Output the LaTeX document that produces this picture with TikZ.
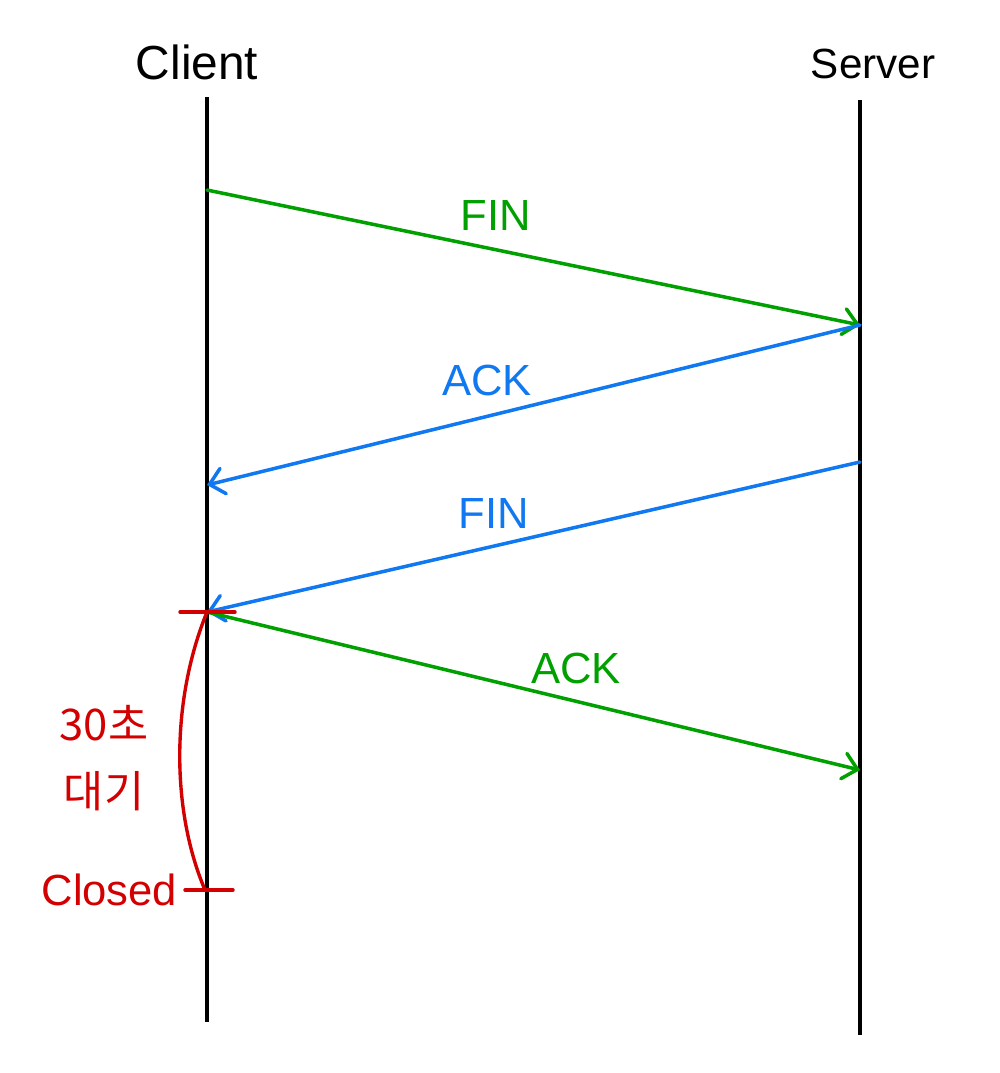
\documentclass[tikz,border=0pt]{standalone}
\usepackage{fontspec}
\setmainfont{Liberation Sans}
\newfontfamily\krfont{Noto Sans CJK KR}
\usetikzlibrary{arrows.meta,positioning}
\definecolor{lifecolor}{RGB}{0, 0, 0}
\definecolor{fincolor}{RGB}{0, 160, 0}
\definecolor{ackcolor}{RGB}{16, 120, 240}
\definecolor{waitcolor}{RGB}{210, 0, 0}
\tikzset{
lifeline/.style={
  draw=lifecolor,
  line width=3.2pt
},
hostlabel/.style={
  font=\fontsize{34}{40}\selectfont,
  text=lifecolor
},
greenmsg/.style={
  -{Straight Barb[length=3.5mm,width=6.5mm,line cap=round]},
  line width=2.5pt,
  line cap=round,
  draw=fincolor
},
bluemsg/.style={
  -{Straight Barb[length=3.5mm,width=6.5mm,line cap=round]},
  line width=2.5pt,
  line cap=round,
  draw=ackcolor
},
msglabel/.style={
  font=\fontsize{31}{36}\selectfont
},
waitline/.style={
  draw=waitcolor,
  line width=2.4pt,
  line cap=round
},
waitlabel/.style={
  text=waitcolor,
  align=center
}
}

\begin{document}
\begin{tikzpicture}[x=0.025cm,y=-0.025cm]
  \useasboundingbox (0,0) rectangle (1000,1073);

  % lifelines
  \coordinate (ctop) at (207,97);
  \coordinate (cbot) at (207,1022);
  \coordinate (stop) at (860,100);
  \coordinate (sbot) at (860,1035);
  \draw[lifeline] (ctop) -- (cbot);
  \draw[lifeline] (stop) -- (sbot);
  \node[hostlabel] (client) at (197,62) {Client};
  \node[hostlabel, font=\fontsize{30}{36}\selectfont] (server) at (873,64) {Server};

  % message end points
  \coordinate (cfin) at (207,190);
  \coordinate (sfin) at (860,325);
  \coordinate (cack) at (207,485);
  \coordinate (sfin2) at (860,462);
  \coordinate (cfin2) at (207,612);
  \coordinate (sack) at (860,770);

  \draw[greenmsg] (cfin) -- (sfin);
  \node[msglabel, text=fincolor] (fin1) at (496,215) {FIN};
  \draw[bluemsg] (sfin) -- (cack);
  \node[msglabel, text=ackcolor] (ack1) at (487,380) {ACK};
  \draw[bluemsg] (sfin2) -- (cfin2);
  \node[msglabel, text=ackcolor] (fin2) at (494,513) {FIN};
  \draw[greenmsg] (cfin2) -- (sack);
  \node[msglabel, text=fincolor] (ack2) at (576,668) {ACK};

  % time wait
  \coordinate (wl) at (180,612);
  \coordinate (wr) at (235,612);
  \coordinate (cclose) at (205,890);
  \coordinate (kl) at (185,890);
  \coordinate (kr) at (233,890);
  \draw[waitline] (wl) -- (wr);
  \draw[waitline] (kl) -- (kr);
  \draw[waitline] (cfin2) .. controls (171,700) and (171,810) .. (cclose);
  \node[waitlabel, font=\krfont\fontsize{31}{48}\selectfont] (wait) at (104,758) {30초\\대기};
  \node[waitlabel, font=\fontsize{31}{36}\selectfont, left=2pt of kl] (closed) {Closed};
\end{tikzpicture}
\end{document}
